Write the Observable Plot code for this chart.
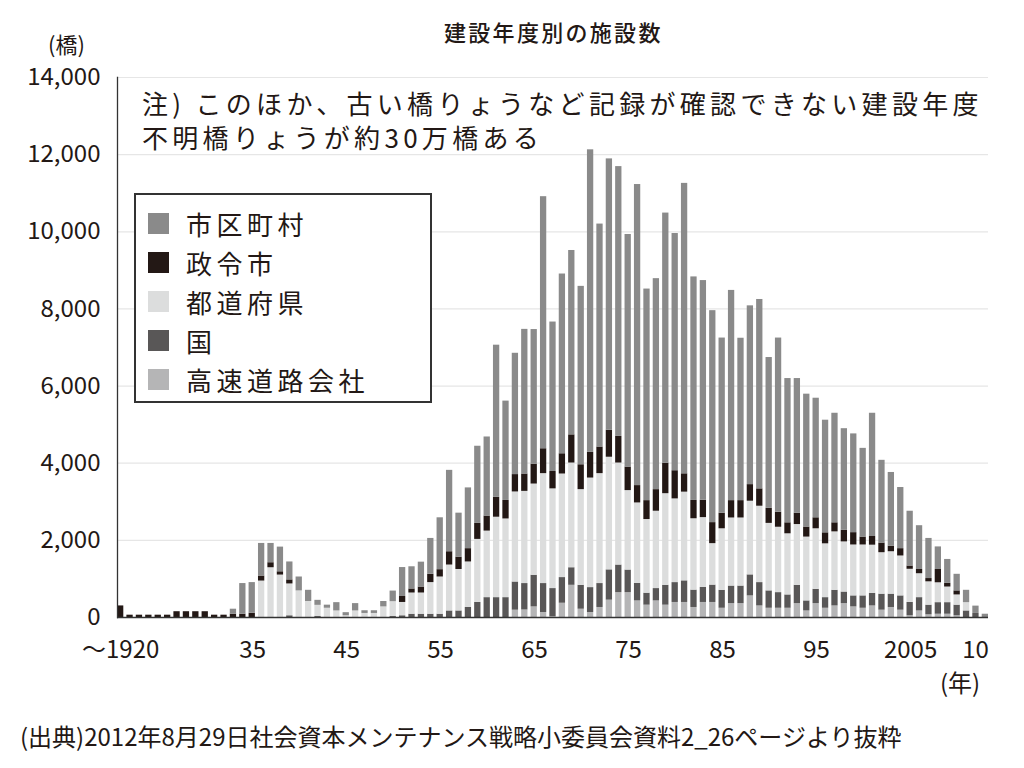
<!DOCTYPE html>
<html>
<head>
<meta charset="utf-8">
<script src="https://cdn.jsdelivr.net/npm/d3@7"></script>
<script src="https://cdn.jsdelivr.net/npm/@observablehq/plot@0.6"></script>
<style>
  html, body { margin: 0; padding: 0; background: #fff; }
  #wrap { position: relative; width: 1024px; height: 768px; overflow: hidden;
          font-family: "Noto Sans CJK JP", "Noto Sans", sans-serif; color: #231815; }
  #wrap svg { position: absolute; left: 0; top: 0; }
  .abs { position: absolute; white-space: nowrap; }
  #legend { position: absolute; left: 134px; top: 193px; width: 294px; height: 206px;
            border: 2px solid #333; background: #fff; }
  .row { position: absolute; left: 12px; height: 39px; display: flex; align-items: center;
         font-size: 26px; letter-spacing: 4.5px; }
  .sw { width: 21px; height: 21px; margin-right: 17px; }
</style>
</head>
<body>
<div id="wrap"></div>
<script>
// Categories (years; first bar = "~1920")
const years = [1920,1921,1922,1923,1924,1925,1926,1927,1928,1929,1930,1931,1932,1933,1934,1935,1936,1937,1938,1939,
  1940,1941,1942,1943,1944,1945,1946,1947,1948,1949,1950,1951,1952,1953,1954,1955,1956,1957,1958,1959,
  1960,1961,1962,1963,1964,1965,1966,1967,1968,1969,1970,1971,1972,1973,1974,1975,1976,1977,1978,1979,
  1980,1981,1982,1983,1984,1985,1986,1987,1988,1989,1990,1991,1992,1993,1994,1995,1996,1997,1998,1999,
  2000,2001,2002,2003,2004,2005,2006,2007,2008,2009,2010,2011,2012];

// Series names (stack order bottom -> top) and colours
const seriesNames = ["高速道路会社", "国", "都道府県", "政令市", "市区町村"];
const seriesColors = ["#b5b5b6", "#595757", "#dcdddd", "#231815", "#8a8a8a"];
const legendOrder = ["市区町村", "政令市", "都道府県", "国", "高速道路会社"];

// Values (bridges per construction year)
const expressway = [0,0,0,0,0,0,0,0,0,0,0,0,0,0,0,0,0,0,0,0,
  0,0,0,0,0,0,0,0,0,0,0,0,0,0,0,0,0,0,0,0,
  0,0,190,195,275,130,20,370,835,215,130,260,450,645,645,430,320,430,320,390,
  390,260,390,390,240,360,360,560,300,240,240,240,360,170,360,240,300,360,275,240,
  300,190,260,190,45,170,70,85,85,45,0,0,0];
const national = [0,0,0,0,0,0,0,0,0,0,0,0,0,0,0,0,0,0,45,0,
  0,25,0,0,0,0,0,0,0,25,45,85,85,85,85,170,170,260,390,515,
  515,515,730,685,820,750,730,665,455,620,645,620,785,715,585,455,310,320,515,515,
  560,450,390,450,465,455,455,545,605,450,405,345,475,260,370,275,405,300,285,320,
  325,415,345,370,345,345,250,300,300,275,170,105,0];
const prefecture = [0,0,0,0,0,0,0,0,0,0,0,0,0,0,0,945,1290,1100,825,690,
  415,290,240,170,45,170,105,105,275,385,345,550,550,820,965,1190,1075,1180,1635,1725,
  2085,2040,2335,2390,2365,2850,2585,2685,2715,2480,2840,2850,2920,2645,2060,2085,1910,2005,2375,2170,
  2300,1850,1810,1075,1595,1765,1765,1910,1980,1750,1695,1585,1575,1655,1570,1395,1515,1300,1320,1320,
  1250,1075,1100,1035,860,620,605,515,405,265,215,0,0];
const designated = [300,60,60,60,60,60,150,150,150,150,60,60,85,85,110,130,130,85,105,0,
  0,0,0,0,0,0,0,0,0,0,155,105,155,215,190,345,320,345,415,390,
  515,480,450,450,515,645,450,525,730,645,665,690,700,690,610,450,490,560,790,730,
  475,475,450,545,405,450,450,430,450,390,390,285,295,260,285,285,235,300,320,205,
  225,250,145,190,85,110,85,345,95,105,0,0,0];
const municipal = [0,0,0,0,0,0,0,0,0,0,0,0,130,795,795,845,500,640,465,360,
  290,130,80,215,80,190,70,70,140,275,750,575,645,930,1345,2110,1140,1575,2000,2050,
  3945,2575,3145,3750,3490,6535,3875,4660,4780,4625,7845,5780,7035,6995,6030,7805,5485,5470,6485,6150,
  7530,5795,5695,5495,4540,5450,4210,4635,4910,3910,4515,3740,3490,3445,3100,2920,2840,2635,2560,2300,
  3195,2145,1910,1585,1420,1135,1040,585,620,430,320,190,85];

// Axis ticks
const yTicks = [0,2000,4000,6000,8000,10000,12000,14000];
const xTicksMain = [1935,1945,1955,1965,1975,1985,1995,2005];
const xTickLabels = {1920: "〜1920", 1935: "35", 1945: "45", 1955: "55", 1965: "65", 1975: "75",
  1985: "85", 1995: "95", 2005: "2005", 2010: "10"};

// Text
const titleText = "建設年度別の施設数";
const unitText = "(橋)";
const noteLines = ["注) このほか、古い橋りょうなど記録が確認できない建設年度", "不明橋りょうが約30万橋ある"];
const yearUnit = "(年)";
const sourceText = "(出典)2012年8月29日社会資本メンテナンス戦略小委員会資料2_26ページより抜粋";

// Build long table
const seriesArrays = {"高速道路会社": expressway, "国": national, "都道府県": prefecture, "政令市": designated, "市区町村": municipal};
const table = [];
for (const name of seriesNames) {
  years.forEach((yr, i) => table.push({year: yr, category: name, value: seriesArrays[name][i]}));
}

const fontFam = '"Noto Sans CJK JP", "Noto Sans", sans-serif';
const chart = Plot.plot({
  width: 1024,
  height: 768,
  marginLeft: 117,
  marginRight: 36,
  marginTop: 77,
  marginBottom: 151,
  style: {fontFamily: fontFam, fontSize: "24px", color: "#231815", background: "transparent"},
  x: {type: "band", domain: years, paddingInner: 0.33, paddingOuter: 0, axis: null},
  y: {domain: [0, 14000], axis: null},
  color: {domain: seriesNames, range: seriesColors},
  marks: [
    Plot.gridY(yTicks.filter(d => d > 0), {stroke: "#e6e6e6", strokeOpacity: 1, strokeWidth: 1.2}),
    Plot.barY(table, {x: "year", y: "value", fill: "category", order: seriesNames}),
    Plot.frame({anchor: "left", stroke: "#333", strokeWidth: 1.3}),
    Plot.ruleY([0], {stroke: "#333", strokeWidth: 1.6}),
    Plot.axisY({ticks: yTicks, label: null, tickSize: 0, tickPadding: 17, tickFormat: d3.format(","), fontSize: 24, fill: "#231815"}),
    Plot.axisX({ticks: [1920], label: null, tickSize: 0, tickPadding: 23, tickFormat: d => xTickLabels[d], fontSize: 24, fill: "#231815"}),
    Plot.axisX({ticks: xTicksMain, label: null, tickSize: 0, tickPadding: 23, dx: -9, tickFormat: d => xTickLabels[d], fontSize: 24, fill: "#231815"}),
    Plot.axisX({ticks: [2010], label: null, tickSize: 0, tickPadding: 23, dx: 9, tickFormat: d => xTickLabels[d], fontSize: 24, fill: "#231815"})
  ]
});

const wrap = document.getElementById("wrap");
wrap.appendChild(chart);

function addText(txt, left, top, size, extra) {
  const el = document.createElement("div");
  el.className = "abs";
  el.textContent = txt;
  el.style.left = left + "px";
  el.style.top = top + "px";
  el.style.fontSize = size + "px";
  el.style.lineHeight = "1";
  if (extra) Object.assign(el.style, extra);
  wrap.appendChild(el);
  return el;
}
addText(titleText, 444, 20, 22, {letterSpacing: "2.3px", fontWeight: "500"});
addText(unitText, 48, 32, 22);
// Note: two lines in one block
const note = addText("", 142, 86, 26, {letterSpacing: "4.3px", lineHeight: "34px"});
noteLines.forEach((ln, i) => {
  if (i > 0) note.appendChild(document.createElement("br"));
  note.appendChild(document.createTextNode(ln));
});
addText(yearUnit, 940, 670, 24);
addText(sourceText, 20, 724, 24);

// Legend
const legend = document.createElement("div");
legend.id = "legend";
legendOrder.forEach((name, i) => {
  const row = document.createElement("div");
  row.className = "row";
  row.style.top = (9 + i * 39) + "px";
  const sw = document.createElement("div");
  sw.className = "sw";
  sw.style.background = seriesColors[seriesNames.indexOf(name)];
  const lab = document.createElement("span");
  lab.textContent = name;
  row.appendChild(sw);
  row.appendChild(lab);
  legend.appendChild(row);
});
wrap.appendChild(legend);
</script>
</body>
</html>
